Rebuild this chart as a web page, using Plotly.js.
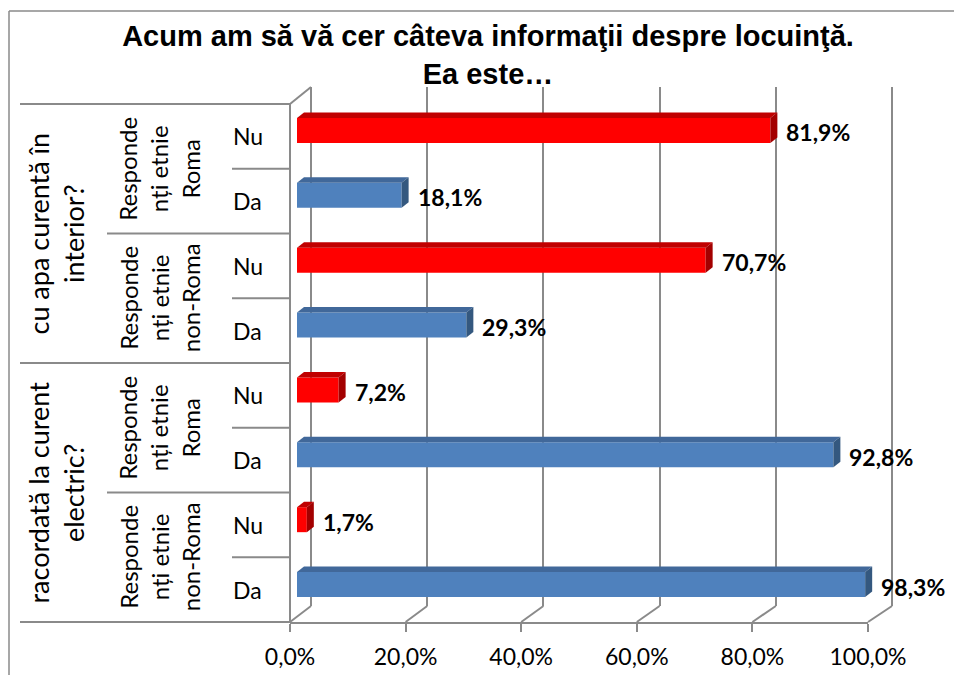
<!DOCTYPE html>
<html><head><meta charset="utf-8">
<script src="https://cdn.plot.ly/plotly-3.0.1.min.js"></script>
<style>html,body{margin:0;padding:0;background:#fff}#chart{width:954px;height:675px}</style>
</head><body><div id="chart"></div>
<script>
// ---------------- data ----------------
const titleText = '<b>Acum am să vă cer câteva informaţii despre locuinţă.</b><br><b>Ea este…</b>';
const questions = ['cu apa curentă în<br>interior?', 'racordată la curent<br>electric?'];
const groups = ['Responde<br>nți etnie<br>Roma', 'Responde<br>nți etnie<br>non-Roma'];
const answers = ['Nu', 'Da'];
// one value per (question, group), rows top to bottom
const nuValues = [81.9, 70.7, 7.2, 1.7];
const daValues = [18.1, 29.3, 92.8, 98.3];
const tickValues = [0, 20, 40, 60, 80, 100];
const tickLabels = ['0,0%', '20,0%', '40,0%', '60,0%', '80,0%', '100,0%'];

// ---------------- geometry / style ----------------
const W = 954, H = 675;
const fx = x => x / W, fy = y => 1 - y / H;
const labelFont = 'Lato, Carlito, Calibri, sans-serif';
const gridColor = '#8a8a8a';
const colors = {Nu: '#FF0000', Da: '#4F81BD'};
const topColors = {Nu: '#C00000', Da: '#41689A'};
const sideColors = {Nu: '#A30000', Da: '#34587F'};

// build categories (rows) from the arrays
const rows = [];
questions.forEach((q, qi) => groups.forEach((g, gi) => answers.forEach(a => {
  const k = qi * groups.length + gi;
  rows.push({key: qi + '|' + gi + '|' + a, answer: a, value: a === 'Nu' ? nuValues[k] : daValues[k]});
})));
const cats = rows.map(r => r.key);

const barFront = {x0: 297, x1: 875, y0: 98, y1: 617};
const gridBack = {x0: 311, x1: 892, y0: 87, y1: 606};
const front = {x0: 290, x1: 868, y: 622};
const tableTop = 104, rowH = (front.y - tableTop) / rows.length;
const barWidth = 0.385;
const scaleX = (barFront.x1 - barFront.x0) / 100;
const dx = 7 / scaleX, dy = 5.5 / ((barFront.y1 - barFront.y0) / rows.length);

const traces = [
  {type: 'scatter', x: [], y: [], xaxis: 'x', yaxis: 'y', hoverinfo: 'skip', showlegend: false},
];
answers.forEach(a => {
  const rs = rows.filter(r => r.answer === a);
  traces.push({
    type: 'bar', orientation: 'h', name: a,
    x: rs.map(r => r.value), y: rs.map(r => r.key),
    xaxis: 'x2', yaxis: 'y2', width: barWidth,
    marker: {color: colors[a], line: {width: 0}},
    hoverinfo: 'x+y', showlegend: false
  });
});
traces.push({type: 'scatter', x: [], y: [], xaxis: 'x3', yaxis: 'y3', hoverinfo: 'skip', showlegend: false});

const shapes = [];
const line = (x0, y0, x1, y1, w) => shapes.push({type: 'line', xref: 'paper', yref: 'paper',
  x0: fx(x0), y0: fy(y0), x1: fx(x1), y1: fy(y1), line: {color: gridColor, width: w || 2}});
// chart border
line(9, 11, W, 11, 1.5);
line(9, 11, 9, H, 1.5);
// left wall edge and depth diagonals
line(front.x0, tableTop, front.x0, front.y);
line(front.x0, tableTop, gridBack.x0, gridBack.y0);
const frontPx = t => front.x0 + (front.x1 - front.x0) * t / 100;
const backPx = t => gridBack.x0 + (gridBack.x1 - gridBack.x0) * t / 100;
tickValues.forEach(t => line(frontPx(t), front.y, backPx(t), gridBack.y1));
// category table lines
for (let k = 0; k <= rows.length; k++) {
  const x0 = k % 4 === 0 ? 20 : (k % 2 === 0 ? 107 : 232);
  line(x0, tableTop + rowH * k, front.x0, tableTop + rowH * k);
}
// 3D faces of the bars
rows.forEach((r, i) => {
  const v = r.value, yt = i - barWidth / 2, yb = i + barWidth / 2;
  shapes.push({type: 'path', xref: 'x2', yref: 'y2', layer: 'above', line: {width: 0},
    fillcolor: topColors[r.answer],
    path: `M0,${yt} L${v},${yt} L${v + dx},${yt - dy} L${dx},${yt - dy} Z`});
  shapes.push({type: 'path', xref: 'x2', yref: 'y2', layer: 'above', line: {width: 0},
    fillcolor: sideColors[r.answer],
    path: `M${v},${yt} L${v + dx},${yt - dy} L${v + dx},${yb - dy} L${v},${yb} Z`});
});

const annotations = [];
const txt = (x, y, text, size, angle) => annotations.push({xref: 'paper', yref: 'paper',
  x: fx(x), y: fy(y), text: text, textangle: angle || 0, showarrow: false,
  xanchor: 'center', yanchor: 'middle', font: {family: labelFont, size: size, color: '#000'}});
// data labels
rows.forEach(r => annotations.push({xref: 'x2', yref: 'y2', x: r.value + dx, y: r.key,
  text: r.value.toFixed(1).replace('.', ',') + '%', showarrow: false, xanchor: 'left', yanchor: 'middle',
  xshift: 7, yshift: -2, font: {family: labelFont, size: 23, color: '#000', weight: 'bold'}}));
// inner labels
rows.forEach((r, i) => txt(248, tableTop + rowH * (i + 0.5), r.answer, 23));
// group labels
questions.forEach((q, qi) => groups.forEach((g, gi) => {
  const k = qi * groups.length + gi;
  txt(159, tableTop + rowH * (2 * k + 1), g, 24, -90);
}));
// question labels
questions.forEach((q, qi) => txt(55, tableTop + rowH * (4 * qi + 2), q, 27, -90));

const pad = 1;
const layout = {
  width: W, height: H, margin: {l: 0, r: 0, t: 0, b: 0},
  paper_bgcolor: '#fff', plot_bgcolor: 'rgba(0,0,0,0)', showlegend: false,
  barmode: 'overlay',
  title: {text: titleText, x: fx(488), xanchor: 'center', y: fy(46), yanchor: 'top', yref: 'container',
    font: {family: 'Liberation Sans, Arial, sans-serif', size: 29, color: '#000'}},
  xaxis: {domain: [fx(gridBack.x0 - pad * 5.81), fx(gridBack.x1 + pad * 5.81)], range: [-pad, 100 + pad],
    tickvals: tickValues, showgrid: true, gridcolor: gridColor, gridwidth: 2, showticklabels: false,
    ticks: '', zeroline: false, showline: false, anchor: 'y', fixedrange: true},
  yaxis: {domain: [fy(gridBack.y1), fy(gridBack.y0)], range: [0, 1], showgrid: false, zeroline: false,
    showticklabels: false, ticks: '', showline: false, anchor: 'x', fixedrange: true},
  xaxis2: {domain: [fx(barFront.x0), fx(barFront.x1)], range: [0, 100], showgrid: false, zeroline: false,
    showticklabels: false, ticks: '', showline: false, anchor: 'y2', fixedrange: true},
  yaxis2: {domain: [fy(barFront.y1), fy(barFront.y0)], type: 'category', categoryorder: 'array',
    categoryarray: cats, range: [cats.length - 0.5, -0.5], showgrid: false, zeroline: false,
    showticklabels: false, ticks: '', showline: false, anchor: 'x2', fixedrange: true},
  xaxis3: {domain: [fx(front.x0), fx(front.x1)], range: [0, 100], tickvals: tickValues, ticktext: tickLabels,
    showgrid: false, zeroline: false, showline: true, linecolor: gridColor, linewidth: 2,
    ticks: 'outside', ticklen: 8, tickwidth: 2, tickcolor: gridColor, anchor: 'y3', side: 'bottom',
    tickfont: {family: labelFont, size: 23, color: '#000'}, ticklabelstandoff: 5, fixedrange: true},
  yaxis3: {domain: [fy(front.y), fy(front.y - 5)], range: [0, 1], visible: false, anchor: 'x3', fixedrange: true},
  shapes: shapes, annotations: annotations
};
Plotly.newPlot('chart', traces, layout, {displayModeBar: false, staticPlot: true});
</script>
</body></html>
